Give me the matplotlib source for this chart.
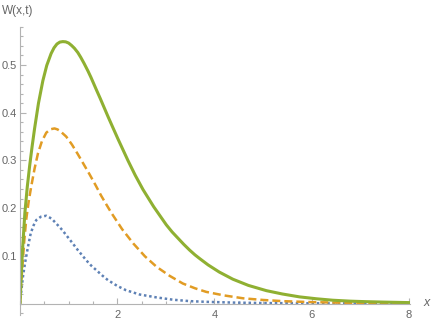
import matplotlib.pyplot as plt
import matplotlib.ticker as ticker

# values
x_green = [0, 0.02, 0.05, 0.1, 0.15, 0.2, 0.25, 0.3, 0.38, 0.47, 0.55, 0.64, 0.7, 0.76,
           0.82, 0.88, 0.94, 1.0, 1.06, 1.12, 1.19, 1.25, 1.32, 1.4, 1.46, 1.52, 1.58,
           1.65, 1.73, 1.81, 1.91, 2.02, 2.12, 2.22, 2.37, 2.53, 2.64, 2.75, 2.88, 3.01,
           3.13, 3.25, 3.37, 3.49, 3.6, 3.7, 3.87, 4.1, 4.38, 4.7, 5.07, 5.4, 5.75, 6.1,
           6.43, 6.8, 7.1, 7.5, 8.0]
w_green = [0, 0.05, 0.11, 0.19, 0.245, 0.29, 0.33, 0.367, 0.42, 0.467, 0.499, 0.524,
           0.536, 0.544, 0.548, 0.549, 0.5485, 0.546, 0.541, 0.535, 0.526, 0.516, 0.503,
           0.487, 0.474, 0.46, 0.446, 0.43, 0.411, 0.392, 0.369, 0.344, 0.322, 0.3,
           0.269, 0.239, 0.221, 0.203, 0.184, 0.165, 0.15, 0.137, 0.124, 0.112, 0.102,
           0.094, 0.081, 0.066, 0.051, 0.038, 0.027, 0.02, 0.014, 0.01, 0.007, 0.005,
           0.004, 0.003, 0.002]

x_orange = [0, 0.02, 0.05, 0.09, 0.13, 0.18, 0.23, 0.3, 0.37, 0.45, 0.54, 0.62, 0.66,
            0.71, 0.77, 0.82, 0.95, 1.07, 1.19, 1.31, 1.43, 1.55, 1.67, 1.78, 1.88, 2.1,
            2.33, 2.57, 2.81, 3.08, 3.35, 3.6, 3.83, 4.2, 4.59, 5.0, 5.41, 6.0, 6.5,
            7.2, 8.0]
w_orange = [0, 0.035, 0.08, 0.135, 0.178, 0.215, 0.245, 0.283, 0.315, 0.34, 0.358,
            0.365, 0.366, 0.367, 0.365, 0.362, 0.35, 0.333, 0.313, 0.292, 0.271, 0.249,
            0.226, 0.207, 0.19, 0.156, 0.126, 0.099, 0.077, 0.058, 0.042, 0.032, 0.0245,
            0.017, 0.011, 0.0075, 0.005, 0.003, 0.002, 0.001, 0.0005]

x_blue = [0, 0.02, 0.06, 0.1, 0.13, 0.17, 0.22, 0.28, 0.335, 0.43, 0.54, 0.65, 0.78,
          0.87, 0.95, 1.07, 1.19, 1.28, 1.36, 1.46, 1.57, 1.69, 1.81, 2.0, 2.18, 2.46,
          2.8, 3.15, 3.5, 3.83, 4.4, 5.0, 6.0, 8.0]
w_blue = [0, 0.02, 0.056, 0.083, 0.1, 0.122, 0.147, 0.164, 0.175, 0.182, 0.184, 0.178,
          0.164, 0.154, 0.1435, 0.128, 0.112, 0.101, 0.091, 0.08, 0.07, 0.059, 0.049,
          0.037, 0.028, 0.019, 0.013, 0.008, 0.005, 0.0036, 0.002, 0.001, 0.0005, 0.0]

x_ticks = [2, 4, 6, 8]
y_ticks = [0.1, 0.2, 0.3, 0.4, 0.5]

AXIS_COLOR = '#b3b3b3'
TEXT_COLOR = '#666666'

plt.rcParams['font.family'] = ['Liberation Sans', 'DejaVu Sans']

fig = plt.figure(figsize=(4.36, 3.27), dpi=100)
ax = fig.add_axes([0.0459, 0.0367, 0.894, 0.8813])

ax.plot(x_blue, w_blue, color='#5e81b5', lw=1.8, linestyle=(0, (1, 1.1)))
ax.plot(x_orange, w_orange, color='#e19c24', lw=1.8, linestyle=(0, (3.2, 1.6)))
ax.plot(x_green, w_green, color='#8fb032', lw=2.2, solid_joinstyle='round')

ax.set_xlim(0, 8.02)
ax.set_ylim(-0.024, 0.58)

# axes through the origin, Mathematica style
for side in ['top', 'right']:
    ax.spines[side].set_visible(False)
ax.spines['left'].set_position(('data', 0))
ax.spines['bottom'].set_position(('data', 0))
for side in ['left', 'bottom']:
    ax.spines[side].set_color(AXIS_COLOR)
    ax.spines[side].set_linewidth(0.8)

ax.xaxis.set_major_locator(ticker.FixedLocator(x_ticks))
ax.xaxis.set_minor_locator(ticker.MultipleLocator(0.5))
ax.yaxis.set_major_locator(ticker.FixedLocator(y_ticks))
ax.yaxis.set_minor_locator(ticker.MultipleLocator(0.02))
ax.tick_params(which='both', direction='in', color=AXIS_COLOR, width=0.8,
               labelcolor=TEXT_COLOR, labelsize=8)
ax.tick_params(which='major', length=4)
ax.tick_params(which='minor', length=2.5)
ax.tick_params(axis='y', pad=2.5)
ax.tick_params(axis='x', pad=5)

fig.text(0.005, 0.965, 'W(x,t)', color=TEXT_COLOR, fontsize=8.5, va='center', ha='left')
fig.text(0.979, 0.073, 'x', color=TEXT_COLOR, fontsize=9, style='italic',
         va='center', ha='center')

fig.savefig('out.png', dpi=100)
